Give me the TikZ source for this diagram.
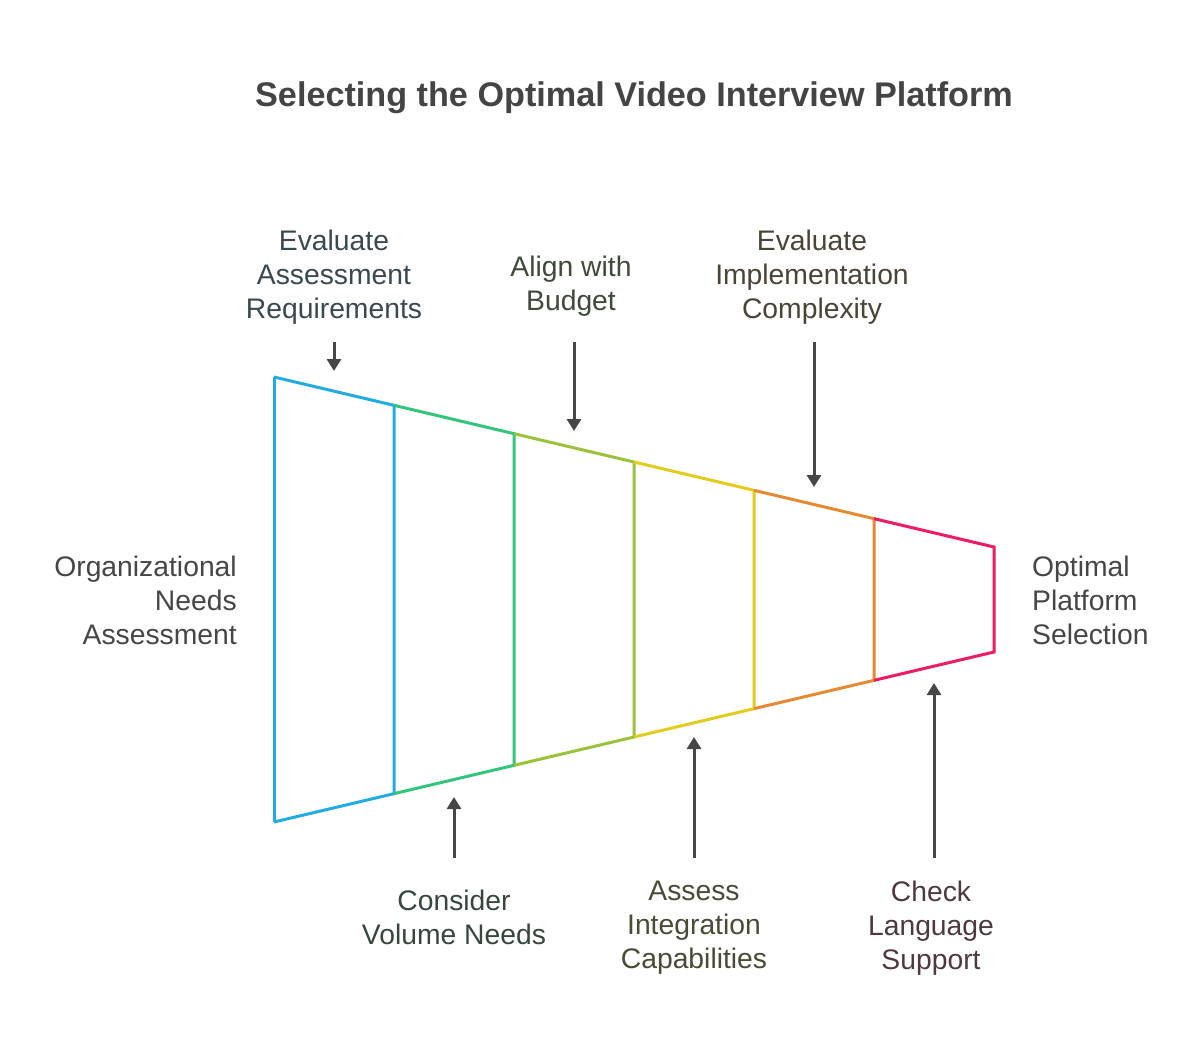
\documentclass[tikz,border=0pt]{standalone}
\usepackage{fontspec}
\setmainfont{Liberation Sans}
\usetikzlibrary{arrows.meta}
\definecolor{cBlue}{HTML}{22ACE2}
\definecolor{cGreen}{HTML}{34C57C}
\definecolor{cLime}{HTML}{9CC23C}
\definecolor{cYellow}{HTML}{E3CC1C}
\definecolor{cOrange}{HTML}{E58A30}
\definecolor{cPink}{HTML}{EE1C66}
\definecolor{cArrow}{HTML}{464646}
\definecolor{tTitle}{HTML}{444444}
\definecolor{tGray}{HTML}{464646}
\definecolor{tSlate}{HTML}{3A4950}
\definecolor{tGreen}{HTML}{37473E}
\definecolor{tOlive}{HTML}{3F4A3A}
\definecolor{tKhaki}{HTML}{4A4A37}
\definecolor{tBrown}{HTML}{4A4337}
\definecolor{tMaroon}{HTML}{4E3A3E}
\begin{document}
\begin{tikzpicture}[x=1pt,y=-1pt,
  lab/.style={align=center,inner sep=0pt,font=\fontsize{28.3}{34}\selectfont},
  seg/.style={line width=3pt,line join=miter},
  arr/.style={line width=3pt,draw=cArrow,-{Triangle[width=14pt,length=12pt]}}]
\useasboundingbox (0,0) rectangle (1200,1046);
\fill[white] (0,0) rectangle (1200,1046);
% title
\node[font=\bfseries\fontsize{34.2}{40}\selectfont,text=tTitle] (title) at (634,98) {Selecting the Optimal Video Interview Platform};
% funnel corners
\foreach \i in {0,...,6}{
  \coordinate (T\i) at ({274+120*\i},{377+28.3333*\i});
  \coordinate (B\i) at ({274+120*\i},{822-28.3333*\i});
}
\draw[seg,cBlue] (B0) -- (T0);
\draw[seg,cBlue] (T0) -- (T1) -- (B1) -- (B0);
\draw[seg,cGreen] (T1) -- (T2) -- (B2) -- (B1);
\draw[seg,cLime] (T2) -- (T3) -- (B3) -- (B2);
\draw[seg,cYellow] (T3) -- (T4) -- (B4) -- (B3);
\draw[seg,cOrange] (T4) -- (T5) -- (B5) -- (B4);
\draw[seg,cPink] (T5) -- (T6) -- (B6) -- (B5);
% labels
\node[lab,text=tGray,align=right,anchor=east] (start) at (237,600) {Organizational\\Needs\\Assessment};
\node[lab,text=tGray,align=left,anchor=west] (finish) at (1032,600) {Optimal\\Platform\\Selection};
\node[lab,text=tSlate] (l1) at (334,277) {Evaluate\\Assessment\\Requirements};
\node[lab,text=tOlive] (l3) at (571,286) {Align with\\Budget};
\node[lab,text=tBrown] (l5) at (812,277) {Evaluate\\Implementation\\Complexity};
\node[lab,text=tGreen] (l2) at (454,917) {Consider\\Volume Needs};
\node[lab,text=tKhaki] (l4) at (694,928) {Assess\\Integration\\Capabilities};
\node[lab,text=tMaroon] (l6) at (931,928) {Check\\Language\\Support};
% arrow ends
\coordinate (a1) at (334,342); \coordinate (t1) at (334,371);
\coordinate (a3) at (574,342); \coordinate (t3) at (574,431);
\coordinate (a5) at (814,342); \coordinate (t5) at (814,487);
\coordinate (a2) at (454,858); \coordinate (t2) at (454,797);
\coordinate (a4) at (694,858); \coordinate (t4) at (694,737);
\coordinate (a6) at (934,858); \coordinate (t6) at (934,683);
\foreach \k in {1,...,6}{\draw[arr] (a\k) -- (t\k);}
\end{tikzpicture}
\end{document}
